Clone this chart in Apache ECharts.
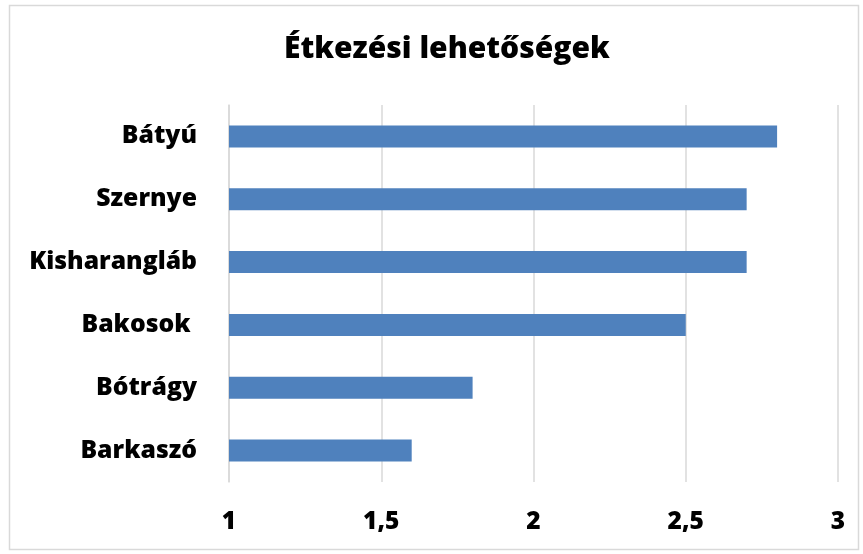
<!DOCTYPE html>
<html>
<head>
<meta charset="utf-8">
<script src="https://cdn.jsdelivr.net/npm/echarts@6/dist/echarts.min.js"></script>
<style>
  html, body { margin: 0; padding: 0; background: #fff; }
  #app { width: 863px; height: 554px; }
</style>
</head>
<body>
<div id="app"></div>
<script>
// település nevek fentről lefelé
const categories = ['Bátyú', 'Szernye', 'Kisharangláb', 'Bakosok ', 'Bótrágy', 'Barkaszó'];
const values = [2.8, 2.7, 2.7, 2.5, 1.8, 1.6];
const xTicks = [1, 1.5, 2, 2.5, 3];

const fontFamily = '"Open Sans", sans-serif';
const myChart = echarts.init(document.getElementById('app'));

const option = {
  backgroundColor: '#fff',
  animation: false,
  title: {
    text: 'Étkezési lehetőségek',
    left: 279,
    top: 29,
    textStyle: {
      fontFamily: fontFamily,
      fontWeight: 800,
      fontSize: 30,
      color: '#000'
    }
  },
  // keret a diagram körül
  graphic: [
    {
      type: 'rect',
      shape: { x: 9.5, y: 5.5, width: 849, height: 544 },
      style: { fill: 'none', stroke: '#d9d9d9', lineWidth: 1.5 },
      silent: true
    }
  ],
  grid: {
    left: 229,
    right: 25,
    top: 105,
    bottom: 72
  },
  xAxis: {
    type: 'value',
    min: 1,
    max: 3,
    interval: 0.5,
    axisLine: { show: false },
    axisTick: { show: false },
    splitLine: { lineStyle: { color: '#d9d9d9', width: 1.5 } },
    axisLabel: {
      margin: 28,
      fontFamily: fontFamily,
      fontWeight: 800,
      fontSize: 24.5,
      color: '#000',
      formatter: function (val) {
        if (xTicks.indexOf(val) === -1) return '';
        return String(val).replace('.', ',');
      }
    }
  },
  yAxis: {
    type: 'category',
    inverse: true,
    data: categories,
    axisLine: { show: true, lineStyle: { color: '#d9d9d9', width: 1.5 } },
    axisTick: { show: false },
    axisLabel: {
      margin: 32,
      fontFamily: fontFamily,
      fontWeight: 800,
      fontSize: 24.75,
      color: '#000'
    }
  },
  series: [
    {
      type: 'bar',
      data: values,
      barWidth: '35%',
      itemStyle: { color: '#4f81bd' }
    }
  ]
};

myChart.setOption(option);
</script>
</body>
</html>
